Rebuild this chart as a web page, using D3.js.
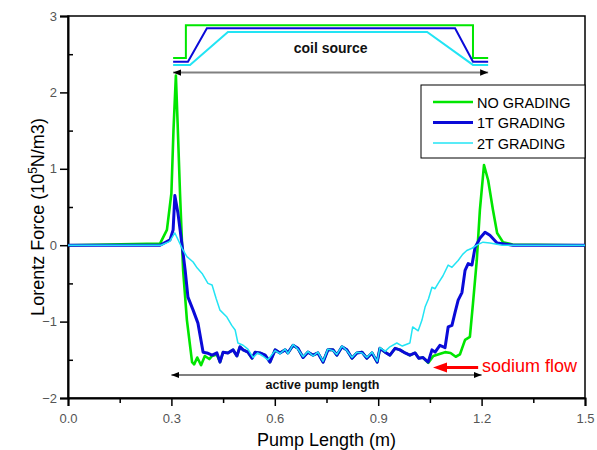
<!DOCTYPE html>
<html>
<head>
<meta charset="utf-8">
<script src="https://cdn.jsdelivr.net/npm/d3@7"></script>
<style>
  body { margin: 0; background: #fff; }
  svg { font-family: Arial, "Liberation Sans", sans-serif; }
</style>
</head>
<body>
<svg id="chart" width="597" height="450"></svg>
<script>
// Series: [pump length (m), force (10^5 N/m3)]
// (in the flat middle the green curve runs under the blue one)
const noGrading = [
  [0, 0], [0.267, 0.02], [0.287, 0.2], [0.3, 0.68], [0.306, 1.5], [0.313, 2.22],
  [0.318, 1.6], [0.325, 0.68], [0.331, 0], [0.334, -0.33], [0.345, -0.98],
  [0.36, -1.53], [0.366, -1.56], [0.375, -1.47], [0.386, -1.57], [0.397, -1.45],
  [0.41, -1.49], [0.418, -1.45], [0.432, -1.43], [0.441, -1.53],
  [0.45, -1.4], [0.464, -1.41], [0.479, -1.37], [0.49, -1.45], [0.499, -1.33],
  [0.508, -1.37], [0.522, -1.4], [0.534, -1.48], [0.543, -1.4], [0.557, -1.41],
  [0.572, -1.44], [0.586, -1.53], [0.601, -1.37], [0.615, -1.41], [0.63, -1.37],
  [0.638, -1.41], [0.653, -1.31], [0.667, -1.35], [0.682, -1.47], [0.696, -1.4],
  [0.711, -1.44], [0.725, -1.41], [0.74, -1.53], [0.754, -1.37], [0.769, -1.37],
  [0.78, -1.44], [0.795, -1.33], [0.809, -1.37], [0.824, -1.48], [0.838, -1.41],
  [0.853, -1.4], [0.867, -1.48], [0.882, -1.41], [0.897, -1.53], [0.905, -1.35],
  [0.92, -1.4], [0.934, -1.44], [0.949, -1.35], [0.963, -1.37], [0.978, -1.41],
  [0.992, -1.44], [1.007, -1.41], [1.018, -1.48], [1.03, -1.47], [1.045, -1.54],
  [1.06, -1.45], [1.08, -1.42], [1.094, -1.4], [1.11, -1.41], [1.125, -1.46],
  [1.137, -1.43], [1.152, -1.24], [1.166, -1.2], [1.175, -0.76], [1.186, -0.2],
  [1.195, 0.46], [1.207, 1.05], [1.219, 0.85], [1.233, 0.46], [1.245, 0.16],
  [1.262, 0.04], [1.29, 0.01], [1.5, 0]
];

const oneT = [
  [0, 0], [0.267, 0], [0.296, 0.07], [0.305, 0.2], [0.31, 0.65], [0.319, 0.42],
  [0.331, 0], [0.34, -0.33], [0.348, -0.68], [0.363, -0.85], [0.377, -1.02],
  [0.392, -1.4], [0.403, -1.41], [0.418, -1.44], [0.432, -1.41], [0.441, -1.53],
  [0.45, -1.4], [0.464, -1.41], [0.479, -1.37], [0.49, -1.45], [0.499, -1.33],
  [0.508, -1.37], [0.522, -1.4], [0.534, -1.48], [0.543, -1.4], [0.557, -1.41],
  [0.572, -1.44], [0.586, -1.53], [0.601, -1.37], [0.615, -1.41], [0.63, -1.37],
  [0.638, -1.41], [0.653, -1.31], [0.667, -1.35], [0.682, -1.47], [0.696, -1.4],
  [0.711, -1.44], [0.725, -1.41], [0.74, -1.53], [0.754, -1.37], [0.769, -1.37],
  [0.78, -1.44], [0.795, -1.33], [0.809, -1.37], [0.824, -1.48], [0.838, -1.41],
  [0.853, -1.4], [0.867, -1.48], [0.882, -1.41], [0.897, -1.53], [0.905, -1.35],
  [0.92, -1.4], [0.934, -1.44], [0.949, -1.35], [0.963, -1.37], [0.978, -1.41],
  [0.992, -1.44], [1.007, -1.41], [1.018, -1.48], [1.03, -1.47], [1.045, -1.53],
  [1.056, -1.37], [1.065, -1.4], [1.079, -1.31], [1.094, -1.34], [1.103, -1.07],
  [1.114, -1.05], [1.123, -0.88], [1.132, -0.72], [1.143, -0.62], [1.152, -0.33],
  [1.161, -0.24], [1.172, -0.26], [1.181, -0.03], [1.195, 0.09], [1.21, 0.17],
  [1.224, 0.13], [1.245, 0.03], [1.291, 0], [1.5, 0]
];

const twoT = [
  [0, 0], [0.27, 0], [0.295, 0.05], [0.31, 0.16], [0.331, -0.04], [0.345, -0.15],
  [0.363, -0.22], [0.375, -0.3], [0.389, -0.37], [0.406, -0.5], [0.418, -0.52],
  [0.43, -0.7], [0.441, -0.85], [0.461, -0.94], [0.475, -1.05], [0.485, -1.11],
  [0.493, -1.28], [0.508, -1.31], [0.522, -1.36], [0.537, -1.47], [0.55, -1.41],
  [0.565, -1.45], [0.58, -1.5], [0.601, -1.38], [0.615, -1.42], [0.63, -1.36],
  [0.638, -1.42], [0.653, -1.3], [0.667, -1.36], [0.682, -1.46], [0.696, -1.39],
  [0.711, -1.45], [0.725, -1.4], [0.74, -1.52], [0.754, -1.36], [0.769, -1.38],
  [0.78, -1.43], [0.795, -1.32], [0.809, -1.38], [0.824, -1.47], [0.838, -1.4],
  [0.853, -1.41], [0.867, -1.47], [0.882, -1.4], [0.897, -1.52], [0.905, -1.34],
  [0.92, -1.39], [0.934, -1.33], [0.954, -1.28], [0.97, -1.32], [0.992, -1.28],
  [1.0, -1.07], [1.016, -1.12], [1.027, -0.98], [1.036, -0.81], [1.046, -0.7],
  [1.056, -0.55], [1.065, -0.57], [1.074, -0.5], [1.088, -0.4], [1.103, -0.26],
  [1.114, -0.29], [1.132, -0.2], [1.145, -0.12], [1.157, -0.07], [1.172, -0.04],
  [1.186, 0], [1.204, 0.04], [1.224, 0.03], [1.26, 0], [1.5, 0]
];

// Coil source profiles drawn above the curves
const coilNo = [[0.305, 2.45], [0.342, 2.45], [0.342, 2.88], [1.175, 2.88], [1.175, 2.45], [1.219, 2.45]];
const coilOneT = [[0.305, 2.40], [0.348, 2.40], [0.403, 2.84], [1.123, 2.84], [1.175, 2.40], [1.219, 2.40]];
const coilTwoT = [[0.305, 2.36], [0.354, 2.36], [0.464, 2.79], [1.042, 2.79], [1.175, 2.36], [1.219, 2.36]];

// Annotation spans
const coilSpan = [0.305, 1.219, 2.26];
const activeSpan = [0.3, 1.2, -1.7];
const flowArrow = [1.19, 1.059, -1.6];

const xTicks = [0, 0.3, 0.6, 0.9, 1.2, 1.5];
const xMinor = [0.15, 0.45, 0.75, 1.05, 1.35];
const yTicks = [-2, -1, 0, 1, 2, 3];
const yMinor = [-1.5, -0.5, 0.5, 1.5, 2.5];

const seriesNames = ["NO GRADING", "1T GRADING", "2T GRADING"];
const colors = ["#00e600", "#0a0ad8", "#22e4f4"];
const widths = [2.6, 3, 1.5];

const svg = d3.select("#chart");
const plotLeft = 68, plotRight = 585, plotTop = 16, plotBottom = 398;

const x = d3.scaleLinear().domain([0, 1.5]).range([plotLeft, plotRight]);
const y = d3.scaleLinear().domain([-2, 3]).range([plotBottom, plotTop]);

const line = d3.line().x((d) => x(d[0])).y((d) => y(d[1]));

// Frame
svg.append("rect")
  .attr("x", plotLeft).attr("y", plotTop)
  .attr("width", plotRight - plotLeft).attr("height", plotBottom - plotTop)
  .attr("fill", "none").attr("stroke", "#000").attr("stroke-width", 1.5);

// Axes
const xAxis = svg.append("g")
  .attr("transform", `translate(0,${plotBottom})`)
  .call(d3.axisBottom(x).tickValues(xTicks).tickSize(8).tickFormat(d3.format(".1f")));
svg.append("g")
  .attr("transform", `translate(0,${plotBottom})`)
  .call(d3.axisBottom(x).tickValues(xMinor).tickSize(5).tickFormat(""))
  .call((g) => g.select(".domain").remove());

const yAxis = svg.append("g")
  .attr("transform", `translate(${plotLeft},0)`)
  .call(d3.axisLeft(y).tickValues(yTicks).tickSize(8).tickFormat(d3.format("d")));
svg.append("g")
  .attr("transform", `translate(${plotLeft},0)`)
  .call(d3.axisRight(y).tickValues(yMinor).tickSize(5).tickFormat(""))
  .call((g) => g.select(".domain").remove());

svg.selectAll(".domain").attr("stroke-width", 2);
svg.selectAll(".tick line").attr("stroke-width", 1.5);
svg.selectAll(".tick text")
  .attr("font-size", 13)
  .attr("fill", "#555")
  .attr("font-family", "Arial, 'Liberation Sans', sans-serif");
xAxis.selectAll(".tick text").attr("dy", "1.1em");
yAxis.selectAll(".tick text").attr("x", -11);

// Axis titles
svg.append("text")
  .attr("x", (plotLeft + plotRight) / 2).attr("y", 446)
  .attr("text-anchor", "middle").attr("font-size", 18)
  .text("Pump Length (m)");

const yTitle = svg.append("text")
  .attr("transform", `translate(44,${(plotTop + plotBottom) / 2 + 10}) rotate(-90)`)
  .attr("text-anchor", "middle").attr("font-size", 18);
yTitle.append("tspan").text("Lorentz Force (10");
yTitle.append("tspan").attr("dy", -7).attr("font-size", 12).text("5");
yTitle.append("tspan").attr("dy", 7).text("N/m3)");

// Curves: green underneath, cyan on top
[noGrading, oneT, twoT].forEach((data, i) => {
  svg.append("path")
    .datum(data)
    .attr("d", line)
    .attr("fill", "none")
    .attr("stroke", colors[i])
    .attr("stroke-width", widths[i])
    .attr("stroke-linejoin", "round");
});

// Coil source profiles
[coilNo, coilOneT, coilTwoT].forEach((data, i) => {
  svg.append("path")
    .datum(data)
    .attr("d", line)
    .attr("fill", "none")
    .attr("stroke", colors[i])
    .attr("stroke-width", 2);
});

// Arrow markers
const defs = svg.append("defs");
defs.append("marker")
  .attr("id", "blackHead")
  .attr("viewBox", "0 0 10 10").attr("refX", 10).attr("refY", 5)
  .attr("markerWidth", 4).attr("markerHeight", 4)
  .attr("markerUnits", "strokeWidth")
  .attr("orient", "auto-start-reverse")
  .append("path").attr("d", "M0,1 L10,5 L0,9 Z").attr("fill", "#000");

function span(s) {
  svg.append("line")
    .attr("x1", x(s[0])).attr("x2", x(s[1]))
    .attr("y1", y(s[2])).attr("y2", y(s[2]))
    .attr("stroke", "#808080").attr("stroke-width", 2)
    .attr("marker-start", "url(#blackHead)")
    .attr("marker-end", "url(#blackHead)");
}
span(coilSpan);
span(activeSpan);

svg.append("text")
  .attr("x", x((coilSpan[0] + coilSpan[1]) / 2)).attr("y", 53)
  .attr("text-anchor", "middle").attr("font-size", 14).attr("font-weight", "bold")
  .attr("fill", "#111")
  .text("coil source");

svg.append("text")
  .attr("x", x((activeSpan[0] + activeSpan[1]) / 2) - 4).attr("y", 389)
  .attr("text-anchor", "middle").attr("font-size", 12.5).attr("font-weight", "bold")
  .attr("fill", "#111")
  .text("active pump length");

// Sodium flow arrow
const fy = y(flowArrow[2]);
svg.append("line")
  .attr("x1", x(flowArrow[0])).attr("x2", x(flowArrow[1]) + 10)
  .attr("y1", fy).attr("y2", fy)
  .attr("stroke", "#ff0000").attr("stroke-width", 3);
svg.append("path")
  .attr("d", `M${x(flowArrow[1])},${fy} L${x(flowArrow[1]) + 14},${fy - 5} L${x(flowArrow[1]) + 14},${fy + 5} Z`)
  .attr("fill", "#ff0000");
svg.append("text")
  .attr("x", 482).attr("y", 372)
  .attr("font-size", 18).attr("fill", "#ff0000")
  .text("sodium flow");

// Legend
const legend = svg.append("g");
legend.append("rect")
  .attr("x", 421).attr("y", 85).attr("width", 164).attr("height", 73)
  .attr("fill", "#fff").attr("stroke", "#000").attr("stroke-width", 1);
seriesNames.forEach((name, i) => {
  const ly = 102 + i * 20.5;
  legend.append("line")
    .attr("x1", 433).attr("x2", 473).attr("y1", ly).attr("y2", ly)
    .attr("stroke", colors[i]).attr("stroke-width", widths[i]);
  legend.append("text")
    .attr("x", 477).attr("y", ly + 5.5)
    .attr("font-size", 14.5).attr("fill", "#000")
    .text(name);
});
</script>
</body>
</html>
